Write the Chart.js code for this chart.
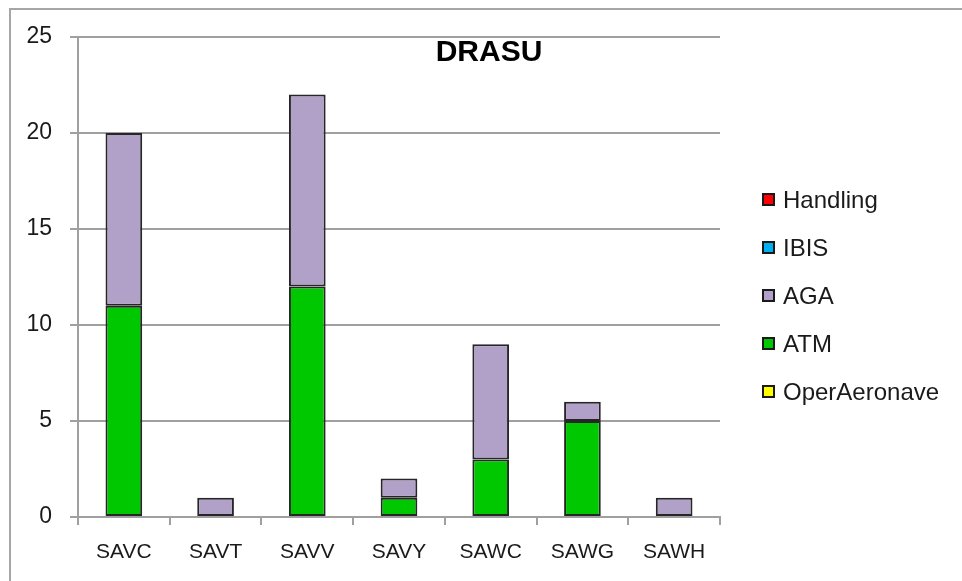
<!DOCTYPE html>
<html>
<head>
<meta charset="utf-8">
<script src="https://cdn.jsdelivr.net/npm/chart.js@4.4.0/dist/chart.umd.min.js"></script>
<style>
  html, body { margin: 0; padding: 0; background: #fff; }
  #wrap { width: 962px; height: 581px; }
</style>
</head>
<body>
<div id="wrap"><canvas id="drasuChart" width="962" height="581"></canvas></div>
<script>
const categories = ['SAVC', 'SAVT', 'SAVV', 'SAVY', 'SAWC', 'SAWG', 'SAWH'];
const operAeronave = [0, 0, 0, 0, 0, 0, 0];
const atm = [11, 0, 12, 1, 3, 5, 0];
const aga = [9, 1, 10, 1, 6, 1, 1];
const ibis = [0, 0, 0, 0, 0, 0, 0];
const handling = [0, 0, 0, 0, 0, 0, 0];
const yTicks = [0, 5, 10, 15, 20, 25];

const fontFamily = '"Liberation Sans", Arial, sans-serif';

// stacked bottom -> top, legend shows reversed
const series = [
  { label: 'OperAeronave', data: operAeronave, color: '#ffff00' },
  { label: 'ATM', data: atm, color: '#00c800' },
  { label: 'AGA', data: aga, color: '#b1a0c7' },
  { label: 'IBIS', data: ibis, color: '#00b0f0' },
  { label: 'Handling', data: handling, color: '#ff0000' }
];

// frame, title and the legend on the right
const extras = {
  id: 'extras',
  beforeDraw(chart) {
    const c = chart.ctx;
    c.save();
    c.fillStyle = '#fff';
    c.fillRect(0, 0, chart.width, chart.height);
    c.strokeStyle = '#a6a6a6';
    c.lineWidth = 2;
    c.strokeRect(10, 9, chart.width + 20, chart.height + 20);
    c.restore();
  },
  afterDraw(chart) {
    const c = chart.ctx;
    c.save();
    c.fillStyle = '#000';
    c.font = 'bold 30px ' + fontFamily;
    c.textAlign = 'center';
    c.textBaseline = 'middle';
    c.fillText('DRASU', 489, 53);

    c.font = '24px ' + fontFamily;
    c.textAlign = 'left';
    const items = series.slice().reverse();
    items.forEach((s, i) => {
      const y = 200 + i * 48;
      c.fillStyle = s.color;
      c.fillRect(763, y - 6, 11, 11);
      c.strokeStyle = '#1a1a1a';
      c.lineWidth = 2;
      c.strokeRect(763, y - 6, 11, 11);
      c.fillStyle = '#1a1a1a';
      c.fillText(s.label, 783, y + 1);
    });
    c.restore();
  }
};

const ctx = document.getElementById('drasuChart').getContext('2d');
const drasuChart = new Chart(ctx, {
  type: 'bar',
  data: {
    labels: categories,
    datasets: series.map(s => ({
      label: s.label,
      data: s.data,
      backgroundColor: s.color,
      borderColor: '#262626',
      borderWidth: s.data.some(v => v > 0) ? 2 : 0,
      borderSkipped: false,
      barPercentage: 0.4,
      categoryPercentage: 1.0
    }))
  },
  options: {
    responsive: false,
    animation: false,
    layout: { padding: { left: 10, right: 242, top: 37, bottom: 0 } },
    plugins: {
      legend: { display: false },
      title: { display: false },
      tooltip: { enabled: false }
    },
    scales: {
      x: {
        stacked: true,
        afterFit: scale => { scale.height = 64; },
        grid: {
          offset: true,
          drawOnChartArea: false,
          drawTicks: true,
          tickLength: 8,
          lineWidth: 2,
          color: '#a0a0a0'
        },
        border: { color: '#a0a0a0', width: 2 },
        ticks: {
          color: '#1a1a1a',
          padding: 15,
          font: { family: fontFamily, size: 21 }
        }
      },
      y: {
        stacked: true,
        min: 0,
        max: 25,
        afterFit: scale => { scale.width = 68; },
        afterBuildTicks: scale => { scale.ticks = yTicks.map(v => ({ value: v })); },
        grid: {
          color: '#a0a0a0',
          lineWidth: 2,
          tickLength: 8
        },
        border: { color: '#a0a0a0', width: 2 },
        ticks: {
          color: '#1a1a1a',
          padding: 18,
          font: { family: fontFamily, size: 23 }
        }
      }
    }
  },
  plugins: [extras]
});
</script>
</body>
</html>
